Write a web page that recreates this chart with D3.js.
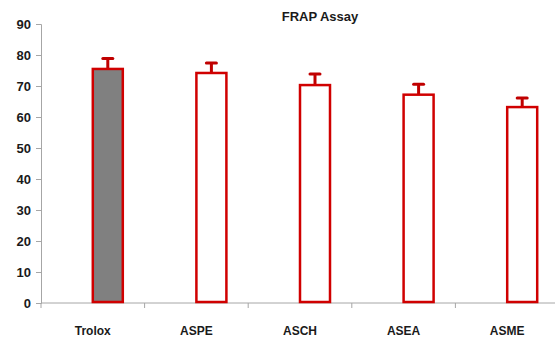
<!DOCTYPE html>
<meta charset="utf-8">
<script src="https://cdn.jsdelivr.net/npm/d3@7"></script>
<style>
  body { margin: 0; background: #fff; }
  text { font-family: "Liberation Sans", Arial, sans-serif; font-weight: bold; fill: #1a1a1a; }
</style>
<div id="chart"></div>
<script>
  // data
  var categories = ["Trolox", "ASPE", "ASCH", "ASEA", "ASME"];
  var values = [75.5, 74.2, 70.3, 67.2, 63.2];
  var errors = [3.4, 3.2, 3.6, 3.4, 2.9];
  var yTicks = [0, 10, 20, 30, 40, 50, 60, 70, 80, 90];

  var width = 555, height = 338;
  var margin = {top: 24, right: -4, bottom: 35, left: 41};

  var svg = d3.select("#chart").append("svg")
      .attr("width", width)
      .attr("height", height);

  var x = d3.scaleBand()
      .domain(categories)
      .range([margin.left, width - margin.right]);

  var y = d3.scaleLinear()
      .domain([0, 90])
      .range([height - margin.bottom, margin.top]);

  // title
  svg.append("text")
      .attr("x", 320)
      .attr("y", 21)
      .attr("text-anchor", "middle")
      .style("font-size", "13px")
      .text("FRAP Assay");

  // y axis
  var yAxis = svg.append("g")
      .attr("transform", "translate(" + margin.left + ",0)")
      .call(d3.axisLeft(y).tickValues(yTicks).tickSize(5).tickPadding(5));
  yAxis.selectAll("path, line").attr("stroke", "#a6a6a6");
  yAxis.selectAll("text").style("font-size", "13px").attr("fill", "#1a1a1a");

  // x axis, ticks at band boundaries
  var xg = svg.append("g")
      .attr("transform", "translate(0," + y(0) + ")");
  xg.append("line")
      .attr("x1", margin.left).attr("x2", width)
      .attr("stroke", "#a6a6a6");
  xg.selectAll(".tk")
      .data(categories)
      .enter().append("line")
      .attr("x1", d => x(d)).attr("x2", d => x(d))
      .attr("y1", 0).attr("y2", 5)
      .attr("stroke", "#a6a6a6");
  xg.selectAll(".lbl")
      .data(categories)
      .enter().append("text")
      .attr("x", d => x(d) + x.bandwidth() / 2)
      .attr("y", 32)
      .attr("text-anchor", "middle")
      .style("font-size", "12px")
      .text(d => d);

  var barW = 30, shift = 15;
  function cx(i) { return x(categories[i]) + x.bandwidth() / 2 + shift; }

  // error bars (drawn before bars so the stem sits behind the top edge)
  var eb = svg.append("g");
  values.forEach(function(v, i) {
    eb.append("line")
        .attr("x1", cx(i)).attr("x2", cx(i))
        .attr("y1", y(v)).attr("y2", y(v + errors[i]))
        .attr("stroke", "#c00000")
        .attr("stroke-width", 3);
    eb.append("line")
        .attr("x1", cx(i) - 5).attr("x2", cx(i) + 5)
        .attr("y1", y(v + errors[i])).attr("y2", y(v + errors[i]))
        .attr("stroke", "#c00000")
        .attr("stroke-width", 3)
        .attr("stroke-linecap", "round");
  });

  // bars
  svg.append("g").selectAll("rect")
      .data(values)
      .enter().append("rect")
      .attr("x", (d, i) => cx(i) - barW / 2)
      .attr("y", d => y(d))
      .attr("width", barW)
      .attr("height", d => y(0) - y(d) - 1)
      .attr("fill", (d, i) => i === 0 ? "#808080" : "#ffffff")
      .attr("stroke", "#d00000")
      .attr("stroke-width", 2.5);
</script>
